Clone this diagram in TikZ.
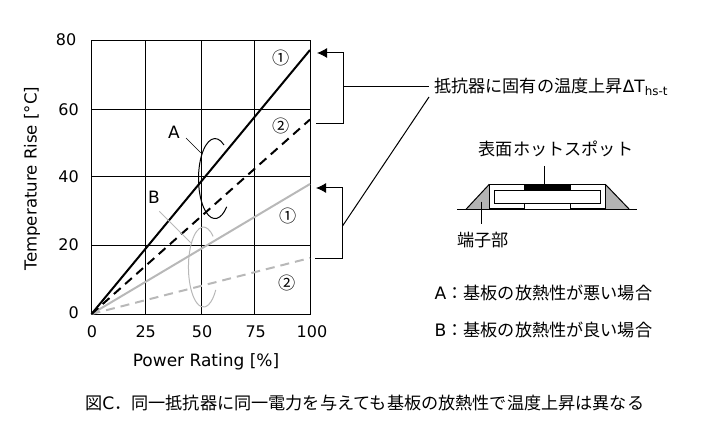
\documentclass[tikz,border=0pt]{standalone}
\usepackage{fontspec}
\setmainfont{DejaVu Sans}
\newfontfamily\cjk{Noto Sans CJK JP}
\usetikzlibrary{arrows.meta}
\definecolor{lightline}{HTML}{B8B8B8}
\definecolor{termfill}{HTML}{B4B4B4}
\tikzset{
	gridline/.style={line width=1pt},
	boldline/.style={line width=2pt},
	greyline/.style={line width=2pt,color=lightline},
	longdash/.style={dash pattern=on 9pt off 6pt},
	axislabel/.style={font=\fontsize{16}{19}\selectfont,inner sep=0pt},
	jptext/.style={font=\fontsize{17.15}{20}\cjk,inner sep=0pt},
	bracket/.style={line width=1pt,-{Latex[length=10pt,width=10pt]}}
}
\begin{document}
\begin{tikzpicture}[x=1pt,y=1pt]
	\useasboundingbox (0,0) rectangle (708,-438);

	% grid of the plot
	\draw[gridline] (91.5,-40.5) rectangle (310,-314);
	\foreach \xpos in {145.7,201.3,254.3}
		\draw[gridline] (\xpos,-40.5)--(\xpos,-314);
	\foreach \ypos in {109.3,176.7,245.3}
		\draw[gridline] (91.5,-\ypos)--(310,-\ypos);

	% tick labels
	\foreach \ypos/\xright/\ytext in {40/76.5/80,109.3/79/60,176.5/79/40,244.5/79/20,312.5/79/0}
		\node[axislabel,anchor=east] (ytick\ytext) at (\xright,-\ypos){\ytext};
	\foreach \xpos/\xtext in {92/0,145.7/25,202/50,255.7/75,312/100}
		\node[axislabel] (xtick\xtext) at (\xpos,-331.5){\xtext};
	\node[axislabel,font=\fontsize{17}{20}\selectfont] (xtitle) at (206,-362){Power Rating [\%]};
	\node[axislabel,font=\fontsize{16.6}{20}\selectfont,rotate=90] (ytitle) at (32,-178.5){Temperature Rise [°C]};

	% the four lines
	\coordinate (origin) at (91.5,-314);
	\draw[greyline] (origin)--(310,-184);
	\draw[greyline,longdash] (origin)--(310,-258);
	\draw[boldline,longdash] (origin)--(310,-119.5);
	\draw[boldline] (origin)--(310,-50);

	\node[jptext] (oneA) at (281,-58){①};
	\node[jptext] (twoA) at (281,-126){②};
	\node[jptext] (oneB) at (288,-216){①};
	\node[jptext] (twoB) at (287,-283){②};

	% the two groups
	\draw[line width=1pt] (224,-145) arc[start angle=57,end angle=315,x radius=16.5,y radius=40];
	\draw[line width=1pt,color=lightline] (213.1,-236.4) arc[start angle=50,end angle=325,x radius=15,y radius=40];
	\node[axislabel,font=\fontsize{17}{20}\selectfont] (labelA) at (174,-132){A};
	\node[axislabel,font=\fontsize{17}{20}\selectfont] (labelB) at (154,-197){B};
	\coordinate (endA) at (200.7,-152.7);
	\coordinate (endB) at (190.7,-242.7);
	\draw[line width=0.7pt] (labelA)+(12,-6)--(endA);
	\draw[line width=1pt,color=lightline] (labelB)+(5.3,-14.3)--(endB);

	% brackets on the right
	\node[jptext,anchor=west] (riseText) at (434,-87){抵抗器に固有の温度上昇{\fontsize{17}{20}\rmfamily ΔT\textsubscript{hs-t}}};
	\coordinate (tipA) at (317,-53);
	\coordinate (cornerA) at (343.5,-53);
	\coordinate (cornerAlow) at (343.5,-123.5);
	\coordinate (endAlow) at (316,-123.5);
	\coordinate (joinA) at (343.5,-87);
	\draw[bracket] (endAlow)--(cornerAlow)--(cornerA)--(tipA);
	\draw[gridline] (joinA)--(429,-87);
	\coordinate (tipB) at (316,-188);
	\coordinate (cornerB) at (342.5,-188);
	\coordinate (cornerBlow) at (342.5,-258.5);
	\coordinate (endBlow) at (315,-258.5);
	\coordinate (joinB) at (342.5,-226);
	\coordinate (endRise) at (429,-97);
	\draw[bracket] (endBlow)--(cornerBlow)--(cornerB)--(tipB);
	\draw[gridline] (joinB)--(endRise);

	% resistor section
	\node[jptext] (hotText) at (556,-148.5){表面ホットスポット};
	\fill[termfill] (466,-209.3)--(489.3,-184.3)--(489.3,-209.3)--cycle;
	\fill[termfill] (605.3,-184.3)--(629.3,-209.3)--(605.3,-209.3)--cycle;
	\draw[gridline] (466,-209.3)--(489.3,-184.3);
	\draw[gridline] (605.3,-184.3)--(629.3,-209.3);
	\draw[gridline] (489.3,-208.3)rectangle(605.3,-184.3);
	\draw[gridline] (494.3,-190.3)rectangle(600.3,-203.3);
	\fill[white] (524.3,-204)rectangle(570.7,-209);
	\draw[gridline] (524.3,-203.3)--(524.3,-209.3);
	\draw[gridline] (570.7,-203.3)--(570.7,-209.3);
	\fill (524.3,-184.3)rectangle(570.7,-190.3);
	\draw[gridline] (457.3,-209.3)--(636.7,-209.3);
	\coordinate (hotTop) at (544,-166);
	\coordinate (hotSpot) at (544,-184.3);
	\draw[gridline] (hotTop)--(hotSpot);
	\node[jptext] (termText) at (483,-240){端子部};
	\coordinate (termIn) at (481.7,-201.7);
	\coordinate (termOut) at (481.7,-224);
	\draw[gridline] (termIn)--(termOut);

	% legend and caption
	\node[jptext,anchor=west] (legendA) at (434.5,-293){{\rmfamily A}：基板の放熱性が悪い場合};
	\node[jptext,anchor=west] (legendB) at (434.5,-330){{\rmfamily B}：基板の放熱性が良い場合};
	\node[jptext,anchor=west] (caption) at (85,-403){図{\rmfamily C}．同一抵抗器に同一電力を与えても基板の放熱性で温度上昇は異なる};
\end{tikzpicture}
\end{document}
